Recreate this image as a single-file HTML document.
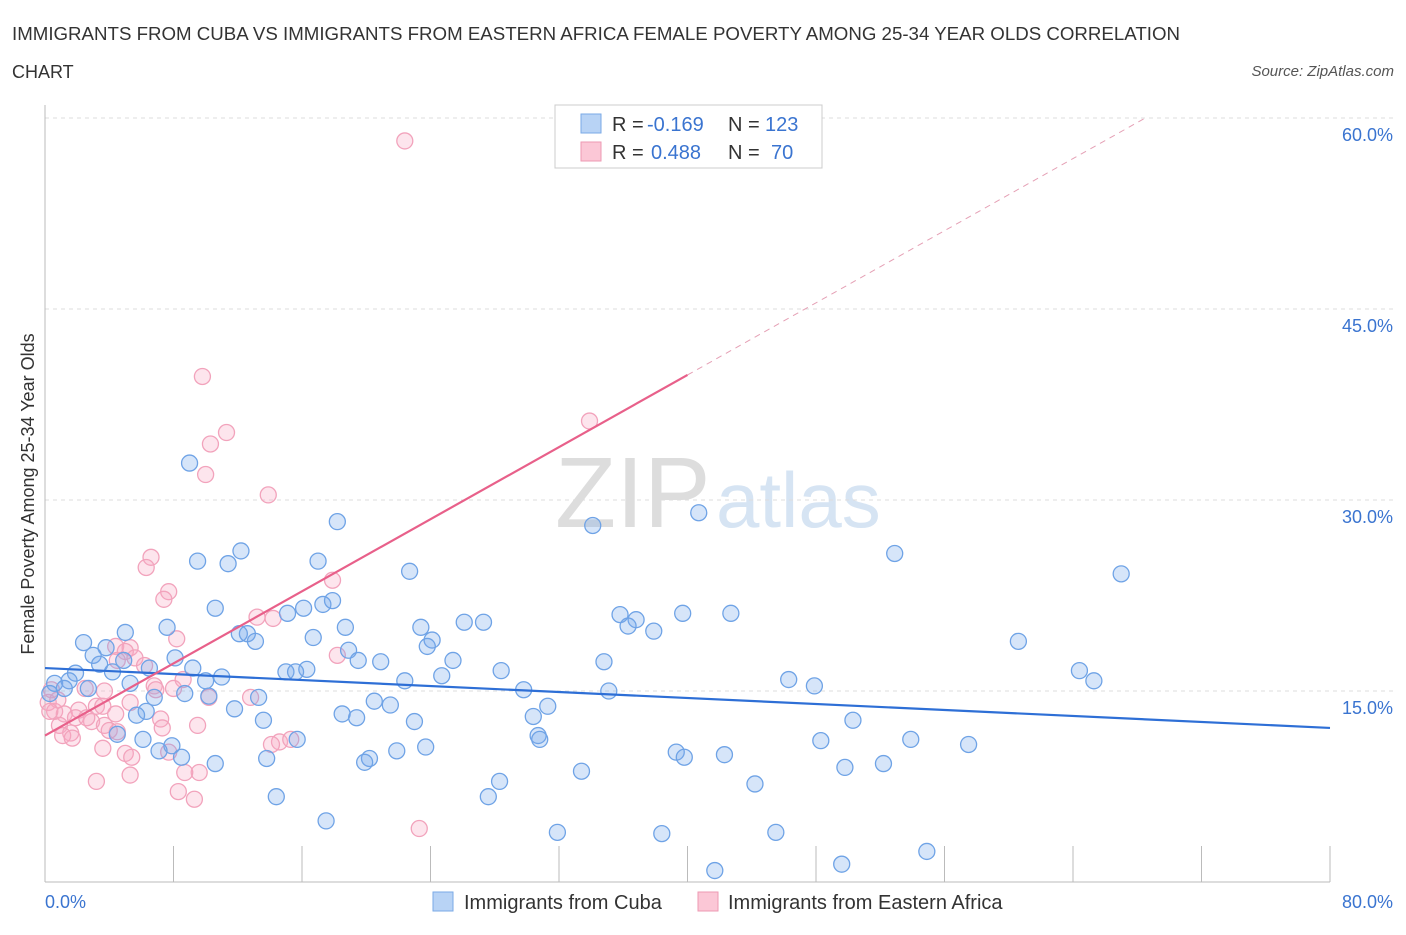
<!DOCTYPE html>
<html><head><meta charset="utf-8"><style>
body{margin:0;background:#fff;font-family:"Liberation Sans",sans-serif;}
svg text{font-family:"Liberation Sans",sans-serif;}
</style></head><body>
<svg id="chart" width="1406" height="930" xmlns="http://www.w3.org/2000/svg">
<text x="12" y="40" font-size="18" fill="#333" textLength="1168" lengthAdjust="spacingAndGlyphs">IMMIGRANTS FROM CUBA VS IMMIGRANTS FROM EASTERN AFRICA FEMALE POVERTY AMONG 25-34 YEAR OLDS CORRELATION</text>
<text x="12" y="78" font-size="18" fill="#333">CHART</text>
<text x="1394" y="76" font-size="15" fill="#555" font-style="italic" text-anchor="end">Source: ZipAtlas.com</text>
<g>
<text x="555" y="527" font-size="100" fill="#ddd" font-family="Liberation Serif">ZIP</text>
<text x="716" y="527" font-size="78" fill="#d6e4f3">atlas</text>
</g>
<g id="grid"></g>
<g id="axes"></g>
<g id="pts"></g>
<g id="trends"></g>
<g>
<rect x="555" y="105" width="267" height="63" fill="#fff" stroke="#ccc"/>
<rect x="581" y="114" width="20" height="19" fill="#b8d3f5" stroke="#7aaae6"/>
<rect x="581" y="142" width="20" height="19" fill="#fbc7d6" stroke="#ee9ab3"/>
<text y="131" font-size="20" fill="#333"><tspan x="612">R = </tspan><tspan x="647" fill="#3a74d0">-0.169</tspan><tspan x="728">N = </tspan><tspan x="765" fill="#3a74d0">123</tspan></text>
<text y="159" font-size="20" fill="#333"><tspan x="612">R = </tspan><tspan x="651" fill="#3a74d0">0.488</tspan><tspan x="728">N = </tspan><tspan x="771" fill="#3a74d0">70</tspan></text>
</g>
<g>
<rect x="433" y="892" width="20" height="19" fill="#b8d3f5" stroke="#7aaae6"/>
<text x="464" y="909" font-size="20" fill="#333">Immigrants from Cuba</text>
<rect x="698" y="892" width="20" height="19" fill="#fbc7d6" stroke="#ee9ab3"/>
<text x="728" y="909" font-size="20" fill="#333">Immigrants from Eastern Africa</text>
</g>
</svg>
<script>
const yTicks=[15,30,45,60];
const yTickLabels=["15.0%","30.0%","45.0%","60.0%"];
const xTickLabels=["0.0%","80.0%"];
const cubaX=[9.0,18.2,34.1,40.7,52.9,67.0,12.2,11.4,9.5,17.0,22.7,10.6,16.1,17.3,17.9,15.1,35.8,36.8,36.3,39.7,42.7,37.9,26.1,27.3,23.4,18.7,7.6,5.0,12.1,12.6,13.1,16.7,24.1,23.8,60.6,2.4,3.8,18.9,3.0,4.9,8.1,19.5,20.9,25.4,34.8,3.4,6.5,9.2,16.3,15.0,15.6,28.4,64.4,65.3,1.9,4.2,11.0,24.7,10.0,22.4,46.3,47.9,0.6,1.5,5.3,1.2,2.7,29.8,35.1,8.7,10.2,13.3,6.8,0.3,20.5,21.5,31.3,11.8,6.3,18.5,30.4,5.7,19.4,13.6,23.0,50.3,30.7,30.8,4.5,6.1,15.7,48.3,53.9,57.5,7.9,7.1,23.7,21.9,39.3,39.8,42.3,20.2,19.9,8.5,13.8,10.6,49.8,52.2,33.4,28.3,44.2,27.6,14.4,17.5,31.9,38.4,45.5,54.9,49.6,41.7];
const cubaY=[32.9,28.3,28.0,29.0,25.8,24.2,26.0,25.0,25.2,25.2,24.4,21.5,21.5,21.8,22.1,21.1,21.0,20.6,20.1,21.1,21.1,19.7,20.4,20.4,20.0,20.0,20.0,19.6,19.5,19.5,18.9,19.2,19.0,18.5,18.9,18.8,18.4,18.2,17.8,17.4,17.6,17.4,17.3,17.4,17.3,17.1,16.8,16.8,16.7,16.5,16.5,16.6,16.6,15.8,16.4,16.5,16.1,16.2,15.8,15.8,15.9,15.4,15.6,15.8,15.6,15.2,15.2,15.1,15.0,14.8,14.6,14.5,14.5,14.8,14.2,13.9,13.8,13.6,13.4,13.2,13.0,13.1,12.9,12.7,12.6,12.7,11.5,11.2,11.6,11.2,11.2,11.1,11.2,10.8,10.7,10.3,10.6,10.3,10.2,9.8,10.0,9.7,9.4,9.8,9.7,9.3,9.0,9.3,8.7,7.9,7.7,6.7,6.7,4.8,3.9,3.8,3.9,2.4,1.4,0.9];
const eafX=[22.4,9.8,33.9,11.3,10.3,10.0,13.9,6.6,6.3,17.9,7.7,7.4,14.2,13.2,8.2,4.4,5.3,5.0,5.6,4.5,6.2,18.2,8.6,6.8,6.9,8.0,3.7,2.5,12.8,10.2,5.3,3.2,3.6,2.1,4.4,0.2,0.6,1.2,1.9,2.9,2.6,7.2,3.7,9.5,0.9,1.6,4.0,1.1,1.7,4.5,7.3,14.6,15.3,14.1,3.6,5.0,5.4,7.7,9.6,8.7,5.3,3.2,8.3,9.3,23.3,0.4,0.8,0.3];
const eafY=[58.2,39.7,36.2,35.3,34.4,32.0,30.4,25.5,24.7,23.7,22.8,22.2,20.7,20.8,19.1,18.5,18.4,18.1,17.6,17.4,17.0,17.8,15.9,15.4,15.1,15.2,15.0,15.2,14.5,14.5,14.1,13.8,13.8,13.5,13.2,14.1,13.4,13.2,12.9,12.6,12.9,12.8,12.3,12.3,12.3,11.7,11.9,11.5,11.3,11.8,12.1,11.0,11.2,10.8,10.5,10.1,9.8,10.2,8.6,8.6,8.4,7.9,7.1,6.5,4.2,15.1,14.3,13.4];
const cubaTrend=[16.8,12.1];      // y at x=0 and x=80
const eafTrend=[11.5,0.708];     // intercept, slope
const eafSolidEnd=40;
const NS="http://www.w3.org/2000/svg";
const X0=45,X1=1330,YB=882,YT=118;
const sx=v=>X0+(v/80)*(X1-X0);
const sy=v=>YB-(v/60)*(YB-YT);
function mk(tag,attrs,parent){const e=document.createElementNS(NS,tag);for(const k in attrs)e.setAttribute(k,attrs[k]);parent.appendChild(e);return e;}
const grid=document.getElementById('grid'),axes=document.getElementById('axes'),pts=document.getElementById('pts'),tr=document.getElementById('trends');
yTicks.forEach((t,i)=>{
 const l=mk('line',{x1:X0,x2:1395,y1:sy(t),y2:sy(t),stroke:'#ddd','stroke-dasharray':'4,4'},grid);
 
 
 const tx=mk('text',{x:1393,y:sy(t)+23,'font-size':18,fill:'#3a74d0','text-anchor':'end'},axes);
 tx.textContent=yTickLabels[i];
 
 
});
let a=mk('line',{x1:X0,x2:X1,y1:YB,y2:YB,stroke:'#bbb'},axes);


a=mk('line',{x1:X0,x2:X0,y1:105,y2:YB,stroke:'#bbb'},axes);


for(let i=1;i<=10;i++){
 const t=mk('line',{x1:sx(i*8),x2:sx(i*8),y1:YB-36,y2:YB,stroke:'#bbb'},axes);
 
 
}
let xl=mk('text',{x:45,y:908,'font-size':18,fill:'#3a74d0'},axes);xl.textContent=xTickLabels[0];


xl=mk('text',{x:1393,y:908,'font-size':18,fill:'#3a74d0','text-anchor':'end'},axes);xl.textContent=xTickLabels[1];


const yt=mk('text',{x:0,y:0,'font-size':18,fill:'#333','text-anchor':'middle',transform:'translate(34,494) rotate(-90)'},axes);
yt.textContent='Female Poverty Among 25-34 Year Olds';


eafX.forEach((v,i)=>{
 const c=mk('circle',{cx:sx(v),cy:sy(eafY[i]),r:8,fill:'rgba(248,170,195,0.3)',stroke:'#f2a3bc','stroke-width':1.3},pts);
 
 
});
cubaX.forEach((v,i)=>{
 const c=mk('circle',{cx:sx(v),cy:sy(cubaY[i]),r:8,fill:'rgba(120,170,235,0.3)',stroke:'#6fa3e6','stroke-width':1.3},pts);
 
 
});
let t=mk('line',{x1:sx(0),y1:sy(cubaTrend[0]),x2:sx(80),y2:sy(cubaTrend[1]),stroke:'#2e6fd6','stroke-width':2.2},tr);


const xe=(60-eafTrend[0])/eafTrend[1];
t=mk('line',{x1:sx(eafSolidEnd),y1:sy(eafTrend[0]+eafTrend[1]*eafSolidEnd),x2:sx(xe),y2:sy(60),stroke:'#e5a0b5','stroke-width':1,'stroke-dasharray':'6,5'},tr);


t=mk('line',{x1:sx(0),y1:sy(eafTrend[0]),x2:sx(eafSolidEnd),y2:sy(eafTrend[0]+eafTrend[1]*eafSolidEnd),stroke:'#e8608a','stroke-width':2.2},tr);


</script>
</body></html>
